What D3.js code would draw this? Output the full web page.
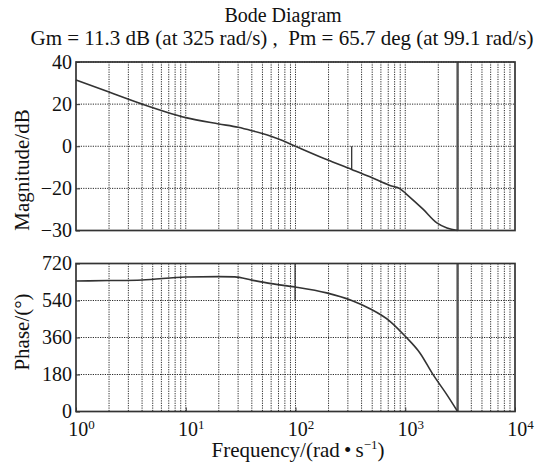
<!DOCTYPE html>
<html lang="en">
<head>
    <meta charset="UTF-8">
    <title>Bode Diagram</title>
    <script src="https://d3js.org/d3.v7.min.js"></script>
    <style>
        body { margin: 0; background: #fff; }
        svg text { font-family: "Liberation Serif", "Times New Roman", serif; fill: #111; }
        .grid line { stroke: #2a2a2a; stroke-width: 1; stroke-dasharray: 1.2,1.2; }
        .frame { fill: none; stroke: #333; stroke-width: 1.7; }
        .curve { fill: none; stroke: #333; stroke-width: 1.6; }
        .axis path { display: none; }
        .axis line { stroke: #333; }
    </style>
</head>
<body>
    <svg id="bode" width="547" height="463"></svg>
    <script>
        // magnitude curve
        const magFreq = [1, 2, 4, 10, 20, 30, 40, 58, 76, 100, 192, 325, 477, 726, 900, 1030, 1460, 1940, 2400, 3000];
        const magDb = [31.5, 25.7, 20, 13.6, 10.6, 9.0, 7.4, 5.0, 2.7, 0, -6.3, -11.0, -14.5, -18.6, -20.1, -21.4, -25, -28.2, -29.4, -30];

        // phase curve
        const phaseFreq = [1, 2, 4, 10, 20, 28, 40, 60, 99.1, 192, 325, 477, 726, 1000, 1360, 1800, 2400, 3000];
        const phaseDeg = [635, 637, 640, 654, 656, 655, 639, 622, 605.7, 577, 540, 500, 439, 366, 285, 178, 81, 0];

        // tick labels
        const magTicks = [40, 20, 0, -20, -30];
        const phaseTicks = [0, 180, 360, 540, 720];
        const freqTicks = [1, 10, 100, 1000, 10000];
        const freqExp = ["0", "1", "2", "3", "4"];

        // margins
        const gmDb = 11.3, gmFreq = 325;
        const pmDeg = 65.7, pmFreq = 99.1;
        const endFreq = 3000;

        const titleText = "Bode Diagram";
        const marginText = "Gm = 11.3 dB (at 325 rad/s) ,  Pm = 65.7 deg (at 99.1 rad/s)";

        const serif = "'Liberation Serif', 'Times New Roman', serif";
        const left = 76, right = 515;
        const magTop = 62, magBottom = 230.5;
        const phTop = 263.5, phBottom = 411.5;

        const svg = d3.select("#bode");

        const x = d3.scaleLog().domain([1, 1e4]).range([left, right]);
        // the -30 tick sits one full step below -20 in the picture
        const yMag = d3.scaleLinear().domain([-30, -20, 40])
            .range([magBottom, magBottom - (magBottom - magTop) / 4, magTop]);
        const yPh = d3.scaleLinear().domain([0, 720]).range([phBottom, phTop]);

        function panel(y, ticks, top, bottom) {
            const grid = svg.append("g").attr("class", "grid");
            grid.selectAll(".v").data(x.ticks().filter(d => d > 1 && d < 1e4))
                .enter().append("line")
                .attr("x1", d => x(d)).attr("x2", d => x(d))
                .attr("y1", top).attr("y2", bottom);
            grid.selectAll(".h").data(ticks)
                .enter().append("line")
                .attr("x1", left).attr("x2", right)
                .attr("y1", d => y(d)).attr("y2", d => y(d));

            svg.append("g")
                .attr("class", "axis")
                .attr("transform", "translate(" + left + ",0)")
                .attr("font-family", serif)
                .call(d3.axisLeft(y).tickValues(ticks).tickSize(-4).tickPadding(4)
                    .tickFormat(d => d < 0 ? "\u2212" + Math.abs(d) : d))
                .call(g => g.selectAll("text").attr("font-size", 20).attr("font-family", serif));

            // end-frequency marker
            svg.append("line")
                .attr("x1", x(endFreq)).attr("x2", x(endFreq))
                .attr("y1", top).attr("y2", bottom)
                .attr("stroke", "#555").attr("stroke-width", 2.4);

            svg.append("rect").attr("class", "frame")
                .attr("x", left).attr("y", top)
                .attr("width", right - left).attr("height", bottom - top);
        }

        panel(yMag, magTicks, magTop, magBottom);
        panel(yPh, phaseTicks, phTop, phBottom);

        // margin markers
        svg.append("line")
            .attr("x1", x(gmFreq)).attr("x2", x(gmFreq))
            .attr("y1", yMag(0)).attr("y2", yMag(-gmDb))
            .attr("stroke", "#333").attr("stroke-width", 1.3);
        svg.append("line")
            .attr("x1", x(pmFreq)).attr("x2", x(pmFreq))
            .attr("y1", yPh(540)).attr("y2", yPh(720))
            .attr("stroke", "#333").attr("stroke-width", 1.3);

        // curves
        const magLine = d3.line()
            .x(d => x(d[0])).y(d => yMag(d[1]))
            .curve(d3.curveMonotoneX);
        svg.append("path").attr("class", "curve")
            .attr("d", magLine(magFreq.map((f, i) => [f, magDb[i]])));

        const phLine = d3.line()
            .x(d => x(d[0])).y(d => yPh(d[1]))
            .curve(d3.curveMonotoneX);
        svg.append("path").attr("class", "curve")
            .attr("d", phLine(phaseFreq.map((f, i) => [f, phaseDeg[i]])));

        // frequency axis under the phase panel
        const xAxis = svg.append("g")
            .attr("class", "axis")
            .attr("transform", "translate(0," + phBottom + ")")
            .attr("font-family", serif)
            .call(d3.axisBottom(x).tickValues(freqTicks).tickSize(-4).tickPadding(10).tickFormat(""));
        xAxis.selectAll(".tick text").each(function(d, i) {
            const t = d3.select(this).attr("font-size", 20).attr("font-family", serif).attr("dx", 5);
            t.text(null);
            t.append("tspan").text("10");
            t.append("tspan").attr("dy", -7).attr("font-size", 13).text(freqExp[i]);
        });

        // titles
        svg.append("text")
            .attr("x", 283).attr("y", 22)
            .attr("text-anchor", "middle").attr("font-size", 20)
            .text(titleText);
        svg.append("text")
            .attr("x", 282).attr("y", 45)
            .attr("text-anchor", "middle").attr("font-size", 21)
            .style("white-space", "pre")
            .text(marginText);

        svg.append("text")
            .attr("transform", "translate(29,170) rotate(-90)")
            .attr("text-anchor", "middle").attr("font-size", 21)
            .text("Magnitude/dB");
        svg.append("text")
            .attr("transform", "translate(29,332) rotate(-90)")
            .attr("text-anchor", "middle").attr("font-size", 21)
            .text("Phase/(\u00b0)");

        const xl = svg.append("text")
            .attr("x", 298).attr("y", 457)
            .attr("text-anchor", "middle").attr("font-size", 21);
        xl.append("tspan").text("Frequency/(rad\u2009\u2022\u2009s");
        xl.append("tspan").attr("dy", -8).attr("font-size", 13).text("\u22121");
        xl.append("tspan").attr("dy", 8).text(")");
    </script>
</body>
</html>
